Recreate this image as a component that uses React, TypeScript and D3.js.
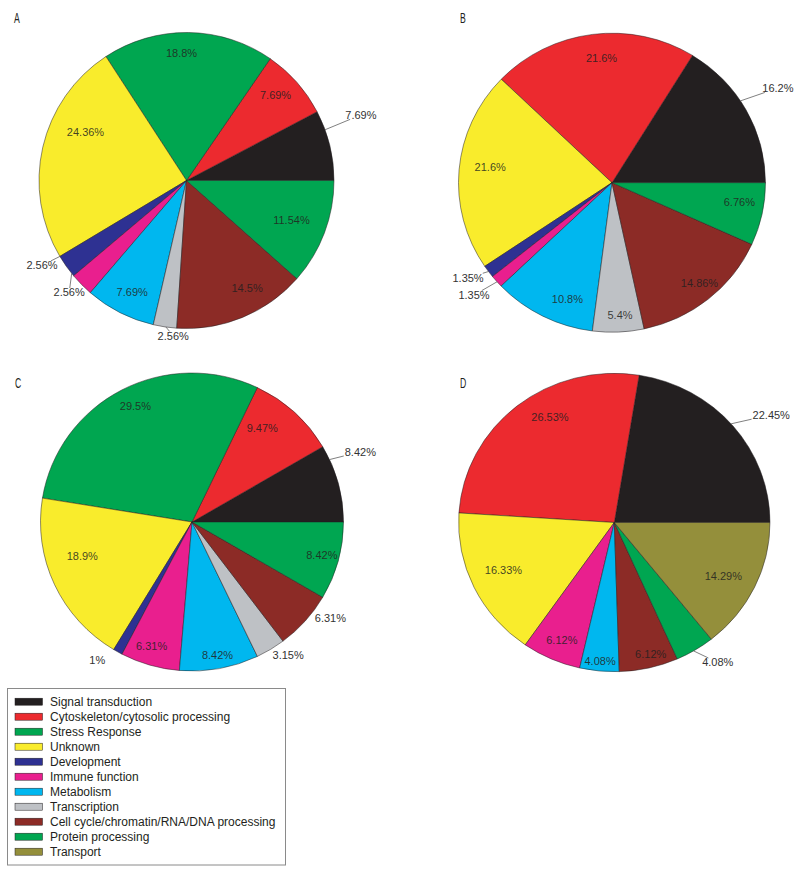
import React from 'react';
import * as d3 from 'd3';

// ---------- data ----------
const categories = [
  'Signal transduction',
  'Cytoskeleton/cytosolic processing',
  'Stress Response',
  'Unknown',
  'Development',
  'Immune function',
  'Metabolism',
  'Transcription',
  'Cell cycle/chromatin/RNA/DNA processing',
  'Protein processing',
  'Transport',
];

const colors = [
  '#231f20', '#ec2a2f', '#00a650', '#f9ec2c', '#2e3192', '#e91f8e',
  '#00b7ef', '#bec1c5', '#8c2b26', '#00a651', '#948f3b',
];

const valuesA = [7.69, 7.69, 18.8, 24.36, 2.56, 2.56, 7.69, 2.56, 14.5, 11.54, 0];
const valuesB = [16.2, 21.6, 0, 21.6, 1.35, 1.35, 10.8, 5.4, 14.86, 6.76, 0];
const valuesC = [8.42, 9.47, 29.5, 18.9, 1, 6.31, 8.42, 3.15, 6.31, 8.42, 0];
const valuesD = [22.45, 26.53, 0, 16.33, 0, 6.12, 4.08, 0, 6.12, 4.08, 14.29];

// ---------- label layout (angle nudge in deg, radius factor, leader angle nudge or null) ----------
type LabelSpec = [number, number, number | null] | null;
const labelsA: LabelSpec[] = [
  [6.7, 1.263, 6.2], [2, 0.833, null], [3, 0.86, null], [-12.7, 0.76, null],
  [-5.1, 1.135, -4.6], [-1.1, 1.098, -5.8], [0.9, 0.841, null], [3.5, 1.054, 0.4],
  [7.2, 0.834, null], [0.2, 0.76, null], null,
];
const labelsB: LabelSpec[] = [
  [1.2, 1.253, 4], [-2.6, 0.835, null], null, [-2.4, 0.8, null],
  [-2.3, 1.133, 0], [-1.4, 1.172, 0.2], [6.3, 0.83, null], [1, 0.886, null],
  [1.5, 0.88, null], [3.1, 0.84, null], null,
];
const labelsC: LabelSpec[] = [
  [7.8, 1.207, 9.6], [6.1, 0.78, null], [-2, 0.864, null], [-7.2, 0.76, null],
  [-4.6, 1.12, null], [-1.6, 0.875, null], [0.3, 0.907, null], [4.1, 1.097, null],
  [6.6, 1.117, null], [0.5, 0.886, null], null,
];
const labelsD: LabelSpec[] = [
  [-4.8, 1.24, 1], [-8.2, 0.817, null], null, [-1.6, 0.78, null],
  null, [0.8, 0.86, null], [-0.1, 0.933, null], null,
  [2, 0.912, null], [4.1, 1.15, -0.6], [-1.3, 0.786, null],
];

const panels = [
  { letter: 'A', values: valuesA, labels: labelsA, cx: 186.5, cy: 180.5, rx: 147.5, ry: 148, lx: 14, ly: 23 },
  { letter: 'B', values: valuesB, labels: labelsB, cx: 612, cy: 182.7, rx: 153.5, ry: 149.5, lx: 460, ly: 23 },
  { letter: 'C', values: valuesC, labels: labelsC, cx: 192, cy: 522, rx: 151.5, ry: 149, lx: 15, ly: 388 },
  { letter: 'D', values: valuesD, labels: labelsD, cx: 614.3, cy: 522.5, rx: 155.7, ry: 149.2, lx: 460, ly: 388 },
];

const FONT = 'Liberation Sans, Arial, Helvetica, sans-serif';
const LABEL_SIZE = 11;

function textWidth(s: string): number {
  let w = 0;
  for (const ch of s) {
    if (ch === '.') w += 0.278;
    else if (ch === '%') w += 0.889;
    else w += 0.556;
  }
  return w * LABEL_SIZE;
}

function Pie({ panel }: { panel: any }) {
  const { values, labels, cx, cy, rx, ry } = panel;
  const sx = rx / ry;
  const items = values.map((v: number, i: number) => ({ v, i })).filter((d: any) => d.v > 0);
  const pie = d3
    .pie<any>()
    .value((d: any) => d.v)
    .sort(null)
    .startAngle(Math.PI / 2)
    .endAngle(Math.PI / 2 - 2 * Math.PI);
  const arcs = pie(items);
  const arcGen = d3.arc<any>().innerRadius(0).outerRadius(ry);

  const polar = (deg: number, r: number) => {
    const t = (deg * Math.PI) / 180;
    return [cx + Math.cos(t) * r * sx, cy - Math.sin(t) * r];
  };

  const labelEls: any[] = [];
  arcs.forEach((a: any) => {
    const i = a.data.i;
    const spec = labels[i];
    if (!spec) return;
    const [nudge, rf, ln] = spec;
    const midA = (a.startAngle + a.endAngle) / 2;
    const theta = 90 - (midA * 180) / Math.PI;
    const [tx, ty] = polar(theta + nudge, ry * rf);
    const txt = `${a.data.v}%`;
    const outside = rf > 1;
    if (outside && ln !== null) {
      const [sx0, sy0] = polar(theta + ln, ry);
      const hw = textWidth(txt) / 2 + 1;
      const hh = 4.5;
      const dx = tx - sx0;
      const dy = ty - sy0;
      const ax = Math.abs(dx);
      const ay = Math.abs(dy);
      const tX = ax > hw ? (ax - hw) / ax : 0;
      const tY = ay > hh ? (ay - hh) / ay : 0;
      const t = Math.max(tX, tY);
      if (t > 0) {
        labelEls.push(
          <line
            key={`l${i}`}
            x1={sx0}
            y1={sy0}
            x2={sx0 + dx * t}
            y2={sy0 + dy * t}
            stroke="#555"
            strokeWidth={0.75}
          />
        );
      }
    }
    labelEls.push(
      <text
        key={`t${i}`}
        x={tx}
        y={ty}
        dy="0.35em"
        textAnchor="middle"
        fontFamily={FONT}
        fontSize={LABEL_SIZE}
        fill={outside ? '#333' : '#231f20'}
        fillOpacity={outside ? 1 : 0.85}
      >
        {txt}
      </text>
    );
  });

  return (
    <g>
      <g transform={`translate(${cx},${cy}) scale(${sx},1)`}>
        {arcs.map((a: any) => (
          <path
            key={a.data.i}
            d={arcGen(a) as string}
            fill={colors[a.data.i]}
            stroke="#231f20"
            strokeWidth={0.5}
            vectorEffect="non-scaling-stroke"
          />
        ))}
      </g>
      {labelEls}
      <text
        transform={`translate(${panel.lx},${panel.ly}) scale(0.62,1)`}
        fontFamily={FONT}
        fontSize={14}
        fill="#231f20"
      >
        {panel.letter}
      </text>
    </g>
  );
}

function Legend() {
  const x0 = 7.5;
  const y0 = 688.5;
  const w = 278;
  const h = 176.5;
  const rowY = d3.scaleLinear().domain([0, categories.length - 1]).range([701.7, 851.7]);
  return (
    <g>
      <rect x={x0} y={y0} width={w} height={h} fill="#fff" stroke="#8a8a8a" strokeWidth={1} />
      {categories.map((c, i) => (
        <g key={c}>
          <rect
            x={15}
            y={rowY(i) - 3.5}
            width={27.5}
            height={7}
            fill={colors[i]}
            stroke="#231f20"
            strokeWidth={0.5}
          />
          <text
            x={50}
            y={rowY(i)}
            dy="0.35em"
            fontFamily={FONT}
            fontSize={12}
            fill="#231f20"
          >
            {c}
          </text>
        </g>
      ))}
    </g>
  );
}

export default function App() {
  return (
    <svg
      width={800}
      height={876}
      viewBox="0 0 800 876"
      style={{ position: 'absolute', left: 0, top: 0, display: 'block', background: '#fff' }}
    >
      <rect x={0} y={0} width={800} height={876} fill="#fff" />
      {panels.map((p) => (
        <Pie key={p.letter} panel={p} />
      ))}
      <Legend />
    </svg>
  );
}
